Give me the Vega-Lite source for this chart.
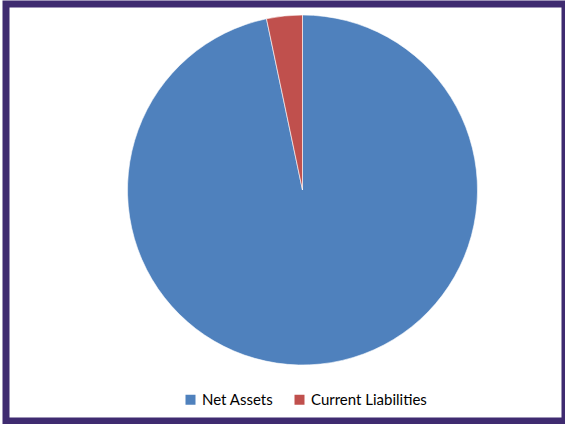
{
  "$schema": "https://vega.github.io/schema/vega-lite/v6.json",
  "autosize": "none",
  "width": 559,
  "height": 417,
  "padding": {"left": 6, "top": 4, "right": 0, "bottom": 3},
  "background": "white",
  "config": {
    "view": {"stroke": "#3F2B70", "strokeWidth": 7},
    "font": "Lato"
  },
  "data": {
    "values": [
      {"category": "Net Assets", "value": 96.7, "idx": 1},
      {"category": "Current Liabilities", "value": 3.3, "idx": 2}
    ]
  },
  "mark": {"type": "arc", "outerRadius": 175, "stroke": "white", "strokeWidth": 0.6},
  "encoding": {
    "theta": {"field": "value", "type": "quantitative", "stack": true},
    "order": {"field": "idx", "type": "quantitative"},
    "x": {"value": 296.5},
    "y": {"value": 186},
    "color": {
      "field": "category",
      "type": "nominal",
      "scale": {"domain": ["Net Assets", "Current Liabilities"], "range": ["#4F81BD", "#C0504D"]},
      "legend": {
        "title": null,
        "orient": "none",
        "direction": "horizontal",
        "legendX": 177,
        "legendY": 388,
        "padding": 0,
        "symbolType": "square",
        "symbolSize": 100,
        "symbolStrokeWidth": 0,
        "labelFont": "Lato",
        "labelFontSize": 15,
        "labelColor": "#000000",
        "labelOffset": 4,
        "columnPadding": 18
      }
    }
  }
}
